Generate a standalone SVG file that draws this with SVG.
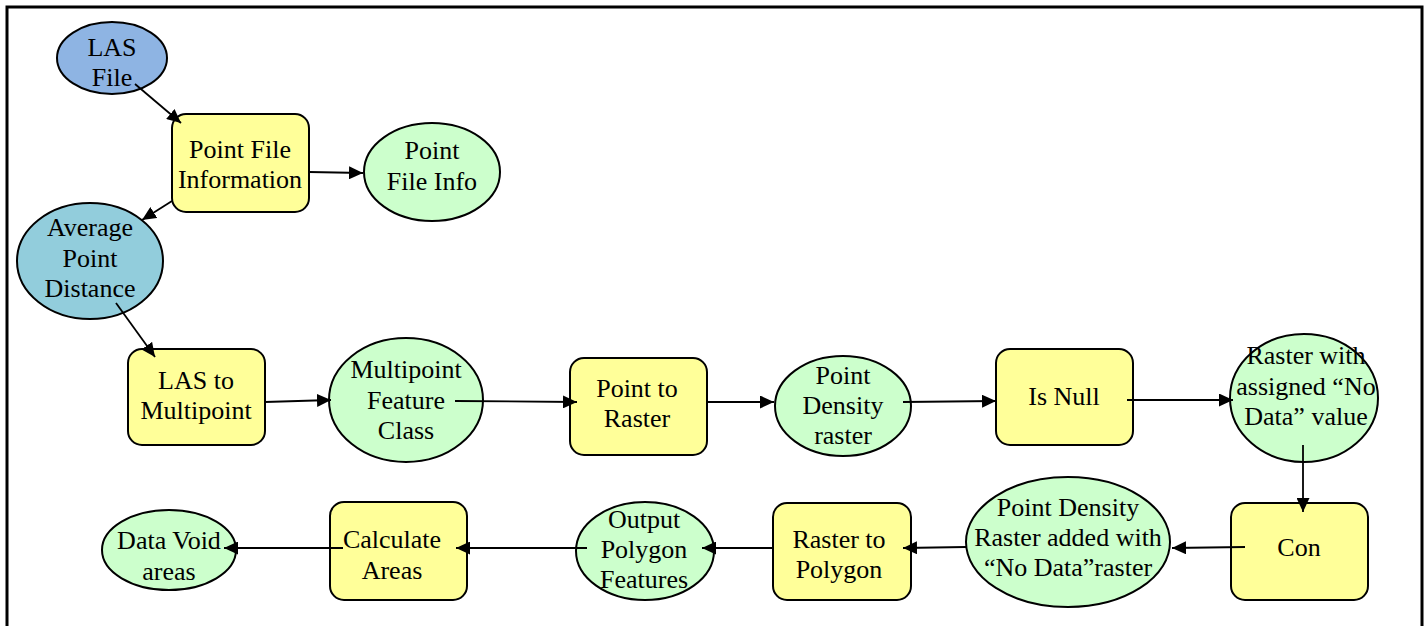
<svg xmlns="http://www.w3.org/2000/svg" width="1427" height="626" viewBox="0 0 1427 626">
<defs>
<marker id="ah" markerUnits="userSpaceOnUse" markerWidth="15" markerHeight="13" refX="14" refY="6.5" orient="auto">
<path d="M0,0 L14,6.5 L0,13 Z" fill="#000"/>
</marker>
<style>
.proc{fill:#FFFF99;stroke:#000;stroke-width:2}
.data{fill:#CCFFCC;stroke:#000;stroke-width:2}
.las{fill:#8EB4E3;stroke:#000;stroke-width:2}
.apd{fill:#92CDDC;stroke:#000;stroke-width:2}
text{font-family:"Liberation Serif","Times New Roman",serif;font-size:26px;fill:#000;text-anchor:middle}
.conn line{stroke:#000;stroke-width:1.8;marker-end:url(#ah)}
</style>
</defs>
<rect x="0" y="0" width="1427" height="626" fill="#fff"/>
<rect x="7" y="7" width="1415" height="700" fill="none" stroke="#000" stroke-width="3"/>

<g id="n-lasfile"><ellipse class="las" cx="112" cy="58" rx="55" ry="36"/><text x="112" y="56">LAS</text><text x="112" y="86">File</text></g>
<g id="n-pfi"><rect class="proc" x="172" y="114" width="137" height="98" rx="14"/><text x="240" y="158">Point File</text><text x="240" y="188">Information</text></g>
<g id="n-pfinfo"><ellipse class="data" cx="432" cy="172" rx="68" ry="49"/><text x="432" y="159">Point</text><text x="432" y="190">File Info</text></g>
<g id="n-apd"><ellipse class="apd" cx="90" cy="261" rx="73" ry="58"/><text x="90" y="236">Average</text><text x="90" y="267">Point</text><text x="90" y="297">Distance</text></g>

<g id="n-ltm"><rect class="proc" x="128" y="349" width="137" height="96" rx="14"/><text x="196" y="389">LAS to</text><text x="196" y="419">Multipoint</text></g>
<g id="n-mfc"><ellipse class="data" cx="406" cy="400" rx="77" ry="62"/><text x="406" y="378">Multipoint</text><text x="406" y="409">Feature</text><text x="406" y="439">Class</text></g>
<g id="n-ptr"><rect class="proc" x="570" y="358" width="137" height="97" rx="14"/><text x="637" y="397">Point to</text><text x="637" y="427">Raster</text></g>
<g id="n-pdr"><ellipse class="data" cx="843" cy="406" rx="68" ry="50"/><text x="843" y="384">Point</text><text x="843" y="414">Density</text><text x="843" y="444">raster</text></g>
<g id="n-isnull"><rect class="proc" x="996" y="349" width="137" height="96" rx="14"/><text x="1064" y="405">Is Null</text></g>
<g id="n-rwnd"><ellipse class="data" cx="1304" cy="398" rx="74" ry="64"/><text x="1306" y="364">Raster with</text><text x="1306" y="395">assigned “No</text><text x="1306" y="425">Data” value</text></g>

<g id="n-con"><rect class="proc" x="1231" y="503" width="137" height="97" rx="14"/><text x="1299" y="556">Con</text></g>
<g id="n-pdraw"><ellipse class="data" cx="1068" cy="542" rx="102" ry="65"/><text x="1068" y="516">Point Density</text><text x="1068" y="546">Raster added with</text><text x="1068" y="576">“No Data”raster</text></g>
<g id="n-rtp"><rect class="proc" x="773" y="503" width="138" height="97" rx="14"/><text x="839" y="548">Raster to</text><text x="839" y="578">Polygon</text></g>
<g id="n-opf"><ellipse class="data" cx="645" cy="551" rx="69" ry="49"/><text x="644" y="528">Output</text><text x="644" y="558">Polygon</text><text x="644" y="588">Features</text></g>
<g id="n-ca"><rect class="proc" x="330" y="502" width="137" height="98" rx="14"/><text x="392" y="548">Calculate</text><text x="392" y="579">Areas</text></g>
<g id="n-dva"><ellipse class="data" cx="169" cy="550" rx="67" ry="40"/><text x="169" y="549">Data Void</text><text x="169" y="580">areas</text></g>

<g id="connectors" class="conn">
<line x1="135" y1="84" x2="181" y2="123"/>
<line x1="172" y1="201" x2="142" y2="220"/>
<line x1="309" y1="172" x2="363" y2="173"/>
<line x1="116" y1="303" x2="155" y2="357"/>
<line x1="265" y1="402" x2="331" y2="400"/>
<line x1="455" y1="401" x2="577" y2="402"/>
<line x1="707" y1="402" x2="774" y2="402"/>
<line x1="903" y1="402" x2="996" y2="401"/>
<line x1="1127" y1="400" x2="1233" y2="400"/>
<line x1="1303" y1="445" x2="1303" y2="512"/>
<line x1="1245" y1="547" x2="1172" y2="548"/>
<line x1="966" y1="547" x2="903" y2="548"/>
<line x1="773" y1="548" x2="702" y2="548"/>
<line x1="587" y1="548" x2="456" y2="548"/>
<line x1="343" y1="548" x2="224" y2="548"/>
</g>
</svg>
